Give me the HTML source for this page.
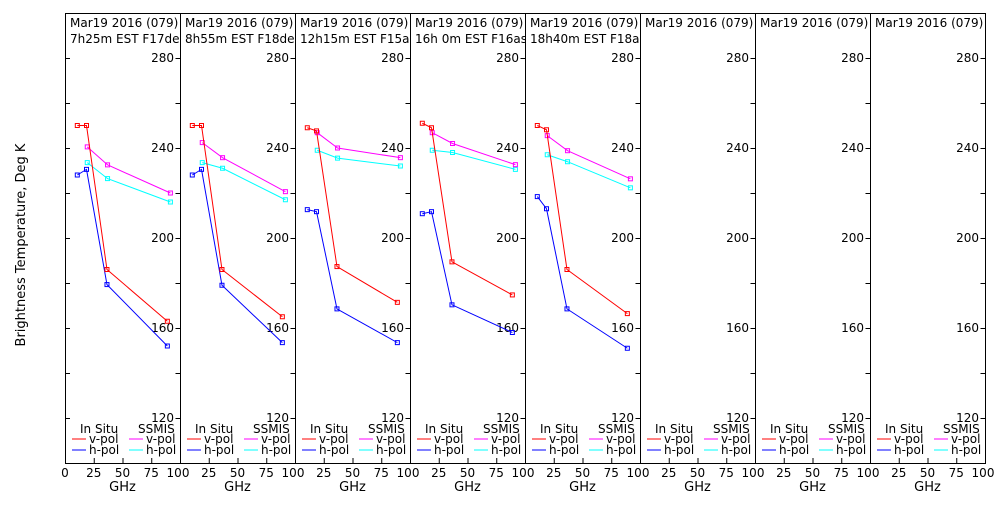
<!DOCTYPE html>
<html><head><meta charset="utf-8"><style>
body{margin:0;background:#fff;width:1000px;height:500px;overflow:hidden}
svg{font-family:"DejaVu Sans","Liberation Sans",sans-serif}
</style></head><body>
<svg id="c" width="1000" height="500" xmlns="http://www.w3.org/2000/svg">
<rect width="1000" height="500" fill="#fff"/>
<text x="25" y="245" font-size="13" text-anchor="middle" transform="rotate(-90 25 245)">Brightness Temperature, Deg K</text>
</svg>
<script>
const headers1 = ["Mar19 2016 (079)","Mar19 2016 (079)","Mar19 2016 (079)","Mar19 2016 (079)","Mar19 2016 (079)","Mar19 2016 (079)","Mar19 2016 (079)","Mar19 2016 (079)"];
const headers2 = ["7h25m EST F17des","8h55m EST F18des","12h15m EST F15asc","16h 0m EST F16asc","18h40m EST F18asc","","",""];
const insituFreq = [10.7, 18.7, 36.5, 89];
const ssmisFreq = [19.35, 37, 91.65];
const insituV = [[250,250,186,163],[250,250,186,165],[249,247.6,187.3,171.4],[251,249,189.4,174.7],[250,248.1,186,166.4]];
const insituH = [[228,230.5,179.3,152],[228,230.5,179,153.5],[212.6,211.7,168.5,153.5],[210.8,211.7,170.3,158],[218.4,213,168.5,151]];
const ssmisV = [[240.5,232.5,220],[242.4,235.7,220.6],[246.8,240,235.7],[246.8,242,232.6],[245.5,238.8,226.3]];
const ssmisH = [[233.5,226.4,216],[233.5,231,217],[239,235.5,232],[239,238,230.5],[237,233.9,222.3]];
const yTicks = [120,160,200,240,280];
const xTicks = [0,25,50,75,100];

const svg = document.getElementById('c');
const NS = 'http://www.w3.org/2000/svg';
const X0 = 65, PW = 115, TOP = 13, BOT = 463;
function yS(t){return BOT - (t-100)*(BOT-TOP)/200;}
function xS(p,f){return X0 + p*PW + f*PW/100;}
function el(tag, attrs, parent){const e=document.createElementNS(NS,tag);for(const k in attrs)e.setAttribute(k,attrs[k]);(parent||svg).appendChild(e);return e;}
function txt(x,y,s,size,anchor,parent){const t=el('text',{x:x,y:y,'font-size':size,'text-anchor':anchor||'start'},parent);t.textContent=s;return t;}

for(let p=0;p<8;p++){
  const g = el('g',{});
  
  
  const cp = el('clipPath',{id:'cp'+p},g);
  el('rect',{x:xS(p,0),y:TOP,width:PW,height:BOT-TOP},cp);
  const b = el('rect',{x:xS(p,0)+0.5,y:TOP+0.5,width:PW,height:BOT-TOP,fill:'none',stroke:'#000','stroke-width':1},g);
  
  
  const hg = el('g',{'clip-path':'url(#cp'+p+')'},g);
  const h1 = txt(xS(p,0)+5,TOP+14,headers1[p],12,'start',hg);
  
  
  const h2 = txt(xS(p,0)+5,TOP+30,headers2[p],12,'start',hg);
  
  
  // y ticks
  for(let t=120;t<=280;t+=20){
    const y=yS(t)+0.5, xr=xS(p,100)+0.5;
    el('line',{x1:xr-5,y1:y,x2:xr,y2:y,stroke:'#000'},g);
    if(p===0) el('line',{x1:xS(0,0)+0.5,y1:y,x2:xS(0,0)+5,y2:y,stroke:'#000'},g);
  }
  yTicks.forEach(t=>{
    const l=txt(xS(p,100)-6,yS(t)+4,String(t),12,'end',g);
    
    
  });
  xTicks.forEach((v,i)=>{
    if(p>0 && i===0) return;
    el('line',{x1:xS(p,v)+0.5,y1:BOT,x2:xS(p,v)+0.5,y2:BOT-5,stroke:'#000'},g);
    const l=txt(xS(p,v)+(v===100?-2:0),BOT+14,String(v),12,'middle',g);
    
    
  });
  const gl=txt(xS(p,50),BOT+28,'GHz',13,'middle',g);
  
  
  // legend
  const lg = el('g',{},g);
  
  
  const lx=xS(p,0);
  txt(lx+15,BOT-30,'In Situ',12,'start',lg);
  txt(lx+73,BOT-30,'SSMIS',12,'start',lg);
  [['#f00','v-pol',BOT-20,7],['#00f','h-pol',BOT-9,7],['#f0f','v-pol',BOT-20,64],['#0ff','h-pol',BOT-9,64]].forEach(a=>{
    el('line',{x1:lx+a[3],y1:a[2]-4,x2:lx+a[3]+14,y2:a[2]-4,stroke:a[0]},lg);
    txt(lx+a[3]+17,a[2],a[1],12,'start',lg);
  });
  // series
  if(p<insituV.length){
    [[ssmisFreq,ssmisH[p],'#0ff','ssmis-h-pol'],[ssmisFreq,ssmisV[p],'#f0f','ssmis-v-pol'],[insituFreq,insituH[p],'#00f','insitu-h-pol'],[insituFreq,insituV[p],'#f00','insitu-v-pol']].forEach(s=>{
      const pts=s[0].map((f,i)=>xS(p,f)+','+yS(s[1][i])).join(' ');
      const pl=el('polyline',{points:pts,fill:'none',stroke:s[2],'stroke-width':1},g);
      
      
      s[0].forEach((f,i)=>{
        const m=el('rect',{x:xS(p,f)-2,y:yS(s[1][i])-2,width:4,height:4,fill:'none',stroke:s[2],'stroke-width':1},g);
        
        
      });
    });
  }
}
</script>
</body></html>
